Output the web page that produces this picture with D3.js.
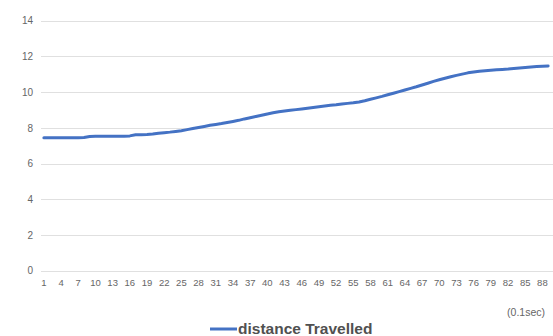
<!DOCTYPE html>
<html>
<head>
<meta charset="utf-8">
<script src="https://cdn.jsdelivr.net/npm/d3@7"></script>
<style>
  html, body { margin: 0; padding: 0; background: #fff; }
  svg { display: block; }
  text { font-family: "Liberation Sans Narrow", "Liberation Sans", "Noto Sans", sans-serif; }
</style>
</head>
<body>
<svg id="chart" width="553" height="336"></svg>
<script>
// Time steps (units of 0.1 s)
const steps = d3.range(1, 90);

// Distance travelled at each time step
const distance = [
  7.45, 7.45, 7.45, 7.45, 7.45, 7.45, 7.45, 7.46,
  7.52, 7.53, 7.53, 7.53, 7.53, 7.53, 7.53, 7.55,
  7.61, 7.62, 7.63, 7.65, 7.70, 7.73, 7.76, 7.80,
  7.84, 7.90, 7.96, 8.02, 8.08, 8.14, 8.19, 8.24,
  8.30, 8.36, 8.42, 8.50, 8.57, 8.64, 8.71, 8.78,
  8.84, 8.90, 8.94, 8.98, 9.02, 9.06, 9.10, 9.14,
  9.18, 9.22, 9.26, 9.29, 9.33, 9.37, 9.40, 9.45,
  9.52, 9.60, 9.68, 9.76, 9.85, 9.94, 10.03, 10.12,
  10.21, 10.30, 10.40, 10.50, 10.60, 10.69, 10.78, 10.86,
  10.94, 11.01, 11.08, 11.13, 11.17, 11.20, 11.23, 11.25,
  11.27, 11.29, 11.32, 11.35, 11.38, 11.41, 11.43, 11.45,
  11.46
];

const yTicks = [0, 2, 4, 6, 8, 10, 12, 14];
const seriesName = "distance Travelled";
const unitLabel = "(0.1sec)";

const svg = d3.select("#chart");
const plotLeft = 41, plotRight = 551, plotTop = 20.7, plotBottom = 270.7;

const x = d3.scaleBand().domain(steps).range([plotLeft, plotRight]);
const y = d3.scaleLinear().domain([0, 14]).range([plotBottom, plotTop]);

// Horizontal gridlines
svg.append("g")
  .selectAll("line")
  .data(yTicks)
  .join("line")
  .attr("x1", plotLeft).attr("x2", 553)
  .attr("y1", d => Math.round(y(d)) + 0.5)
  .attr("y2", d => Math.round(y(d)) + 0.5)
  .attr("stroke", "#e0e0e0")
  .attr("stroke-width", 1);

// Y axis labels
const yAxis = svg.append("g")
  .attr("transform", `translate(${plotLeft - 8},0)`)
  .call(d3.axisLeft(y).tickValues(yTicks).tickSize(0).tickPadding(0));
yAxis.select(".domain").remove();
yAxis.selectAll("text")
  .attr("fill", "#666")
  .attr("font-size", 10)
  .style("font-family", '"Liberation Sans Narrow", "Liberation Sans", sans-serif');

// X axis labels, every third step
const xAxis = svg.append("g")
  .attr("transform", `translate(0,${plotBottom + 9})`)
  .call(d3.axisBottom(x).tickValues(steps.filter((d, i) => i % 3 === 0)).tickSize(0).tickPadding(0));
xAxis.select(".domain").remove();
xAxis.selectAll("text")
  .attr("fill", "#666")
  .attr("font-size", 9.5)
  .style("font-family", '"Liberation Sans Narrow", "Liberation Sans", sans-serif');

// Unit label under the axis end
svg.append("text")
  .attr("x", 545).attr("y", 316)
  .attr("text-anchor", "end")
  .attr("fill", "#666")
  .attr("font-size", 10.5)
  .text(unitLabel);

// Series line
const line = d3.line()
  .x((d, i) => x(steps[i]) + x.bandwidth() / 2)
  .y(d => y(d));

svg.append("path")
  .datum(distance)
  .attr("d", line)
  .attr("fill", "none")
  .attr("stroke", "#4472c4")
  .attr("stroke-width", 3)
  .attr("stroke-linejoin", "round")
  .attr("stroke-linecap", "round");

// Legend
const legend = svg.append("g").attr("transform", "translate(210,329)");
legend.append("line")
  .attr("x1", 0).attr("x2", 27)
  .attr("stroke", "#4472c4").attr("stroke-width", 3);
legend.append("text")
  .attr("x", 28).attr("y", 5)
  .attr("fill", "#505050")
  .attr("font-size", 15.5)
  .attr("font-weight", 600)
  .text(seriesName);
</script>
</body>
</html>
